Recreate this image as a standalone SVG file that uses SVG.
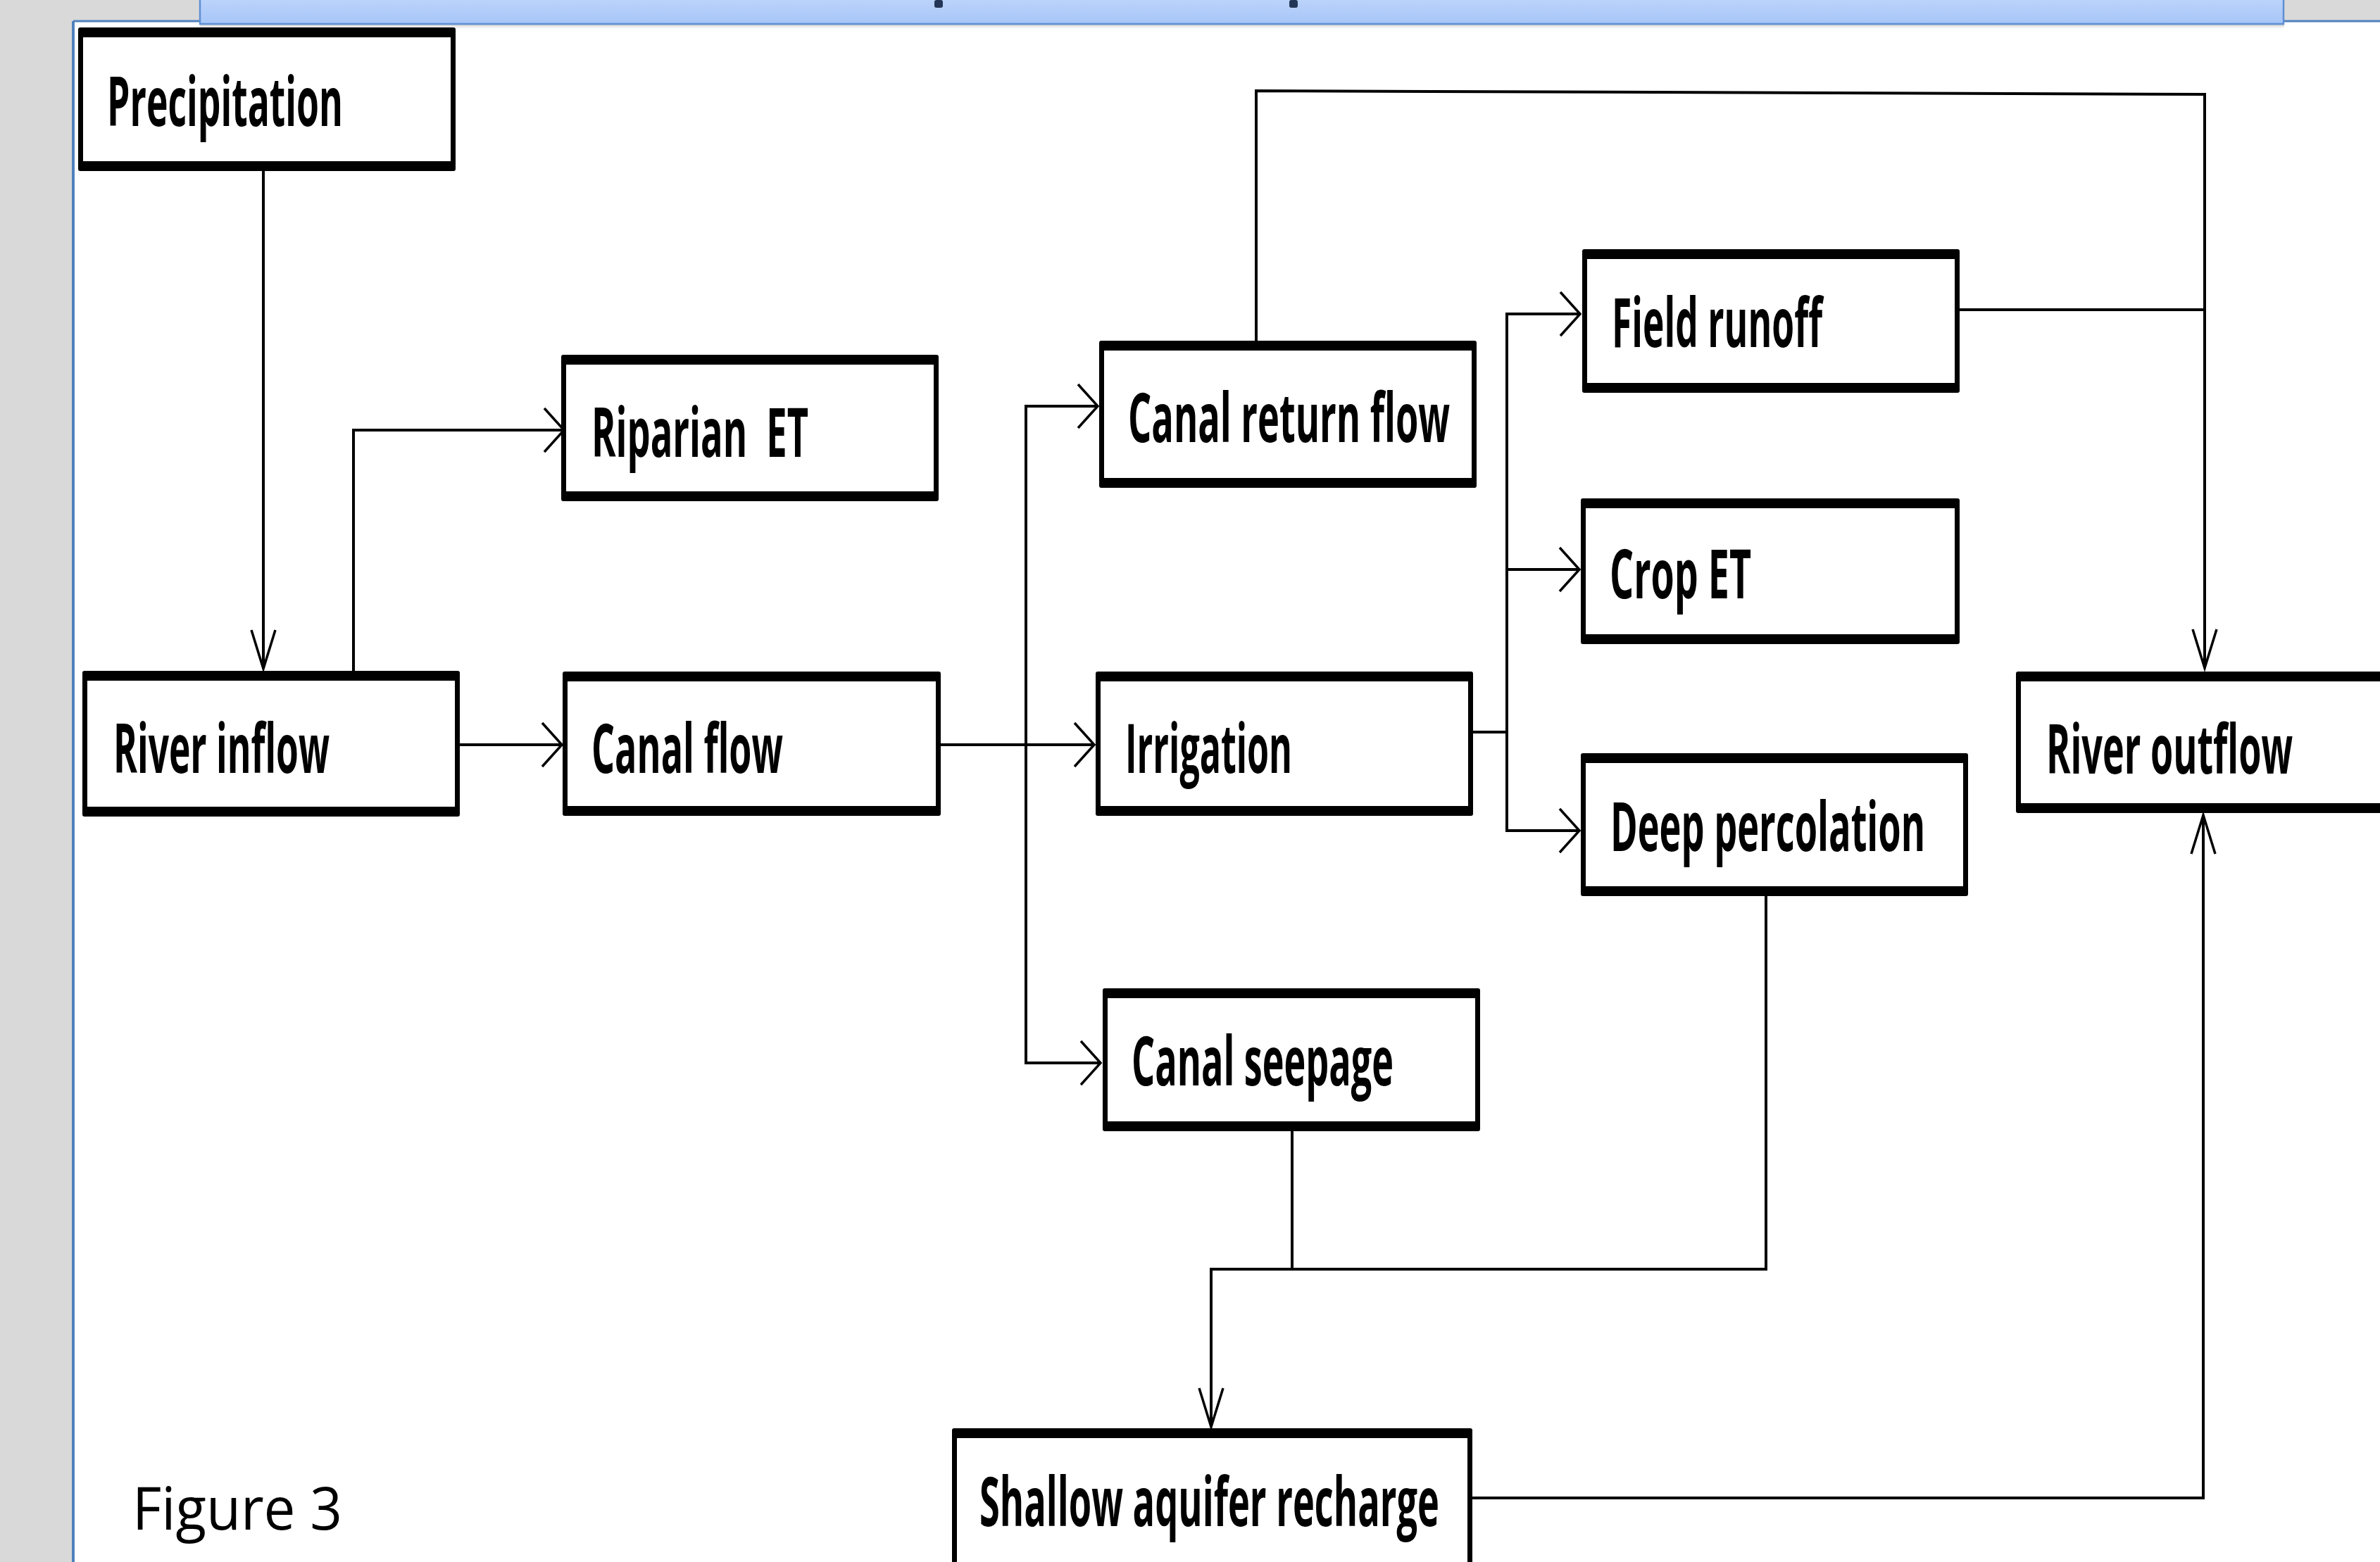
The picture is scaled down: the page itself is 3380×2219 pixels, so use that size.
<svg xmlns="http://www.w3.org/2000/svg" width="3380" height="2219" viewBox="0 0 3380 2219">
<style>
.bo{fill:#000}
.bi{fill:#fff}
.t{font-family:"Open Sans","Liberation Sans",sans-serif;font-weight:700;font-size:96px;fill:#000}
.c{fill:none;stroke:#000;stroke-width:4;stroke-linejoin:miter}
.cap{font-family:"Open Sans","Liberation Sans",sans-serif;font-size:84px;fill:#000}
</style>
<defs>
<linearGradient id="tb" x1="0" y1="0" x2="0" y2="1">
<stop offset="0" stop-color="#bcd4fb"/>
<stop offset="1" stop-color="#a6c5f7"/>
</linearGradient>
<linearGradient id="sh" x1="0" y1="0" x2="0" y2="1">
<stop offset="0" stop-color="#b8b8b8" stop-opacity="0.7"/>
<stop offset="1" stop-color="#ffffff" stop-opacity="0"/>
</linearGradient>
<marker id="ah" markerUnits="userSpaceOnUse" orient="auto" overflow="visible" refX="0" refY="0" markerWidth="1" markerHeight="1">
<path d="M-28,-31 L0,0 L-28,31" fill="none" stroke="#000" stroke-width="3.5"/>
</marker>
<marker id="av" markerUnits="userSpaceOnUse" orient="auto" overflow="visible" refX="0" refY="0" markerWidth="1" markerHeight="1">
<path d="M-55,-17 L0,0 L-55,17" fill="none" stroke="#000" stroke-width="3.5"/>
</marker>
</defs>

<g id="page">
<rect x="0" y="0" width="3380" height="2219" fill="#d9d9d9"/>
<rect x="104" y="30" width="3276" height="2189" fill="#ffffff"/>
<line x1="104" y1="30" x2="104" y2="2219" stroke="#4f81bd" stroke-width="4"/>
<line x1="104" y1="30" x2="3380" y2="30" stroke="#4f81bd" stroke-width="3"/>
<rect x="284" y="35" width="2960" height="8" fill="url(#sh)"/>
<rect x="284" y="-2" width="2959" height="36" fill="url(#tb)" stroke="#5f8fd3" stroke-width="2.5"/>
<rect x="1327" y="0" width="12" height="11" rx="3" fill="#243657"/>
<rect x="1831" y="0" width="12" height="11" rx="3" fill="#243657"/>
</g>

<g id="connectors">
<path class="c" d="M374,243 V950" marker-end="url(#av)"/>
<path class="c" d="M502,953 V611 H801" marker-end="url(#ah)"/>
<path class="c" d="M653,1058 H798" marker-end="url(#ah)"/>
<path class="c" d="M1336,1058 H1554" marker-end="url(#ah)"/>
<path class="c" d="M1457,1058 V577 H1559" marker-end="url(#ah)"/>
<path class="c" d="M1457,1058 V1510 H1563" marker-end="url(#ah)"/>
<path class="c" d="M1784,484 V129 L3131,134 V949" marker-end="url(#av)"/>
<path class="c" d="M2783,440 H3131"/>
<path class="c" d="M2092,1040 H2140"/>
<path class="c" d="M2140,1040 V446 H2244" marker-end="url(#ah)"/>
<path class="c" d="M2140,809 H2243" marker-end="url(#ah)"/>
<path class="c" d="M2140,1040 V1180 H2243" marker-end="url(#ah)"/>
<path class="c" d="M1835,1607 V1803"/>
<path class="c" d="M2508,1273 V1803 H1720 V2027" marker-end="url(#av)"/>
<path class="c" d="M2091,2128 H3129 V1158" marker-end="url(#av)"/>
</g>

<g id="precipitation">
<rect class="bo" x="111" y="39" width="536" height="204" rx="3"/>
<rect class="bi" x="118" y="53" width="522" height="176"/>
<text class="t" x="152" y="179" textLength="335" lengthAdjust="spacingAndGlyphs">Precipitation</text>
</g>

<g id="riparian-et">
<rect class="bo" x="797" y="504" width="536" height="208" rx="3"/>
<rect class="bi" x="804" y="518" width="522" height="180"/>
<text class="t" x="840" y="649" textLength="308" lengthAdjust="spacingAndGlyphs" xml:space="preserve">Riparian  ET</text>
</g>

<g id="river-inflow">
<rect class="bo" x="117" y="953" width="536" height="207" rx="3"/>
<rect class="bi" x="124" y="967" width="522" height="179"/>
<text class="t" x="161" y="1098" textLength="307" lengthAdjust="spacingAndGlyphs">River inflow</text>
</g>

<g id="canal-flow">
<rect class="bo" x="799" y="954" width="537" height="205" rx="3"/>
<rect class="bi" x="806" y="968" width="523" height="177"/>
<text class="t" x="840" y="1098" textLength="272" lengthAdjust="spacingAndGlyphs">Canal flow</text>
</g>

<g id="canal-return-flow">
<rect class="bo" x="1561" y="484" width="536" height="209" rx="3"/>
<rect class="bi" x="1568" y="498" width="522" height="181"/>
<text class="t" x="1602" y="628" textLength="457" lengthAdjust="spacingAndGlyphs">Canal return flow</text>
</g>

<g id="irrigation">
<rect class="bo" x="1556" y="954" width="536" height="205" rx="3"/>
<rect class="bi" x="1563" y="968" width="522" height="177"/>
<text class="t" x="1598" y="1098" textLength="237" lengthAdjust="spacingAndGlyphs">Irrigation</text>
</g>

<g id="canal-seepage">
<rect class="bo" x="1566" y="1404" width="536" height="203" rx="3"/>
<rect class="bi" x="1573" y="1418" width="522" height="175"/>
<text class="t" x="1607" y="1542" textLength="372" lengthAdjust="spacingAndGlyphs">Canal seepage</text>
</g>

<g id="field-runoff">
<rect class="bo" x="2247" y="354" width="536" height="204" rx="3"/>
<rect class="bi" x="2254" y="368" width="522" height="176"/>
<text class="t" x="2289" y="493" textLength="299" lengthAdjust="spacingAndGlyphs">Field runoff</text>
</g>

<g id="crop-et">
<rect class="bo" x="2245" y="708" width="538" height="207" rx="3"/>
<rect class="bi" x="2252" y="722" width="524" height="179"/>
<text class="t" x="2286" y="850" textLength="201" lengthAdjust="spacingAndGlyphs">Crop ET</text>
</g>

<g id="deep-percolation">
<rect class="bo" x="2245" y="1070" width="550" height="203" rx="3"/>
<rect class="bi" x="2252" y="1084" width="536" height="175"/>
<text class="t" x="2287" y="1209" textLength="447" lengthAdjust="spacingAndGlyphs">Deep percolation</text>
</g>

<g id="river-outflow">
<rect class="bo" x="2863" y="954" width="560" height="201" rx="3"/>
<rect class="bi" x="2870" y="968" width="546" height="173"/>
<text class="t" x="2906" y="1099" textLength="350" lengthAdjust="spacingAndGlyphs">River outflow</text>
</g>

<g id="shallow-aquifer-recharge">
<rect class="bo" x="1352" y="2029" width="739" height="240" rx="3"/>
<rect class="bi" x="1359" y="2043" width="725" height="212"/>
<text class="t" x="1391" y="2168" textLength="653" lengthAdjust="spacingAndGlyphs">Shallow aquifer recharge</text>
</g>

<g id="caption">
<text class="cap" x="188" y="2173" textLength="298" lengthAdjust="spacingAndGlyphs">Figure 3</text>
</g>
</svg>
